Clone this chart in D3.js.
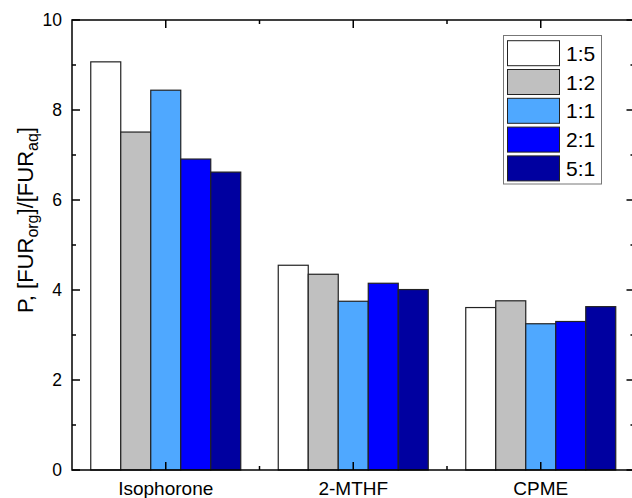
<!DOCTYPE html>
<html><head><meta charset="utf-8">
<script src="https://cdn.jsdelivr.net/npm/d3@7"></script>
<style>body{margin:0;background:#fff}svg{display:block;font-family:Arial,"Liberation Sans",sans-serif}</style>
</head><body><svg id="c" width="632" height="498"></svg>
<script>
const categories = ["Isophorone", "2-MTHF", "CPME"];
const series = ["1:5", "1:2", "1:1", "2:1", "5:1"];
const colors = ["#ffffff", "#c0c0c0", "#4fa8ff", "#0000ff", "#0000a0"];
const values = {
  "1:5": [9.07, 4.55, 3.61],
  "1:2": [7.51, 4.35, 3.76],
  "1:1": [8.44, 3.75, 3.25],
  "2:1": [6.91, 4.15, 3.30],
  "5:1": [6.62, 4.01, 3.63]
};
const yTicks = [0, 2, 4, 6, 8, 10];
const yMinor = [1, 3, 5, 7, 9];

const svg = d3.select("#c");
const L = 72, R = 634.5, T = 20, B = 470;
const x0 = d3.scaleBand().domain(categories).range([L, R]);
const bw = x0.bandwidth();
const x1 = d3.scaleBand().domain(series).range([0.1 * bw, 0.9 * bw]);
const y = d3.scaleLinear().domain([0, 10]).range([B, T]);
const color = d3.scaleOrdinal().domain(series).range(colors);

// bars
const g = svg.append("g");
categories.forEach((c, ci) => {
  series.forEach(s => {
    g.append("rect")
      .attr("x", x0(c) + x1(s))
      .attr("y", y(values[s][ci]))
      .attr("width", x1.bandwidth())
      .attr("height", y(0) - y(values[s][ci]))
      .attr("fill", color(s))
      .attr("stroke", "#222")
      .attr("stroke-width", 1.2);
  });
});

// axes
const ax = svg.append("g").attr("stroke", "#000").attr("stroke-width", 1.5).attr("fill", "none");
ax.append("rect").attr("x", L).attr("y", T).attr("width", R - L).attr("height", B - T);
yTicks.forEach(t => {
  ax.append("line").attr("x1", L).attr("x2", L + 8).attr("y1", y(t)).attr("y2", y(t));
  ax.append("line").attr("x1", R).attr("x2", R - 8).attr("y1", y(t)).attr("y2", y(t));
});
yMinor.forEach(t => {
  ax.append("line").attr("x1", L).attr("x2", L + 4).attr("y1", y(t)).attr("y2", y(t));
  ax.append("line").attr("x1", R).attr("x2", R - 4).attr("y1", y(t)).attr("y2", y(t));
});
categories.forEach((c, i) => {
  const cx = x0(c) + bw / 2;
  ax.append("line").attr("x1", cx).attr("x2", cx).attr("y1", B).attr("y2", B - 8);
  ax.append("line").attr("x1", cx).attr("x2", cx).attr("y1", T).attr("y2", T + 8);
  if (i > 0) {
    const bx = x0(c);
    ax.append("line").attr("x1", bx).attr("x2", bx).attr("y1", B).attr("y2", B - 4);
    ax.append("line").attr("x1", bx).attr("x2", bx).attr("y1", T).attr("y2", T + 4);
  }
});

// tick labels
svg.append("g").selectAll("text").data(yTicks).join("text")
  .attr("x", L - 10).attr("y", d => y(d) + 6)
  .attr("text-anchor", "end").attr("font-size", 17.5).text(d => d);
svg.append("g").selectAll("text").data(categories).join("text")
  .attr("x", d => x0(d) + bw / 2).attr("y", 495)
  .attr("text-anchor", "middle").attr("font-size", 19).text(d => d);

// y title
const yt = svg.append("text").attr("transform", "translate(33,220) rotate(-90)")
  .attr("text-anchor", "middle").attr("font-size", 22);
yt.append("tspan").text("P, [FUR");
yt.append("tspan").attr("font-size", 16).attr("dy", 5).text("org");
yt.append("tspan").attr("dy", -5).text("]/[FUR");
yt.append("tspan").attr("font-size", 16).attr("dy", 5).text("aq");
yt.append("tspan").attr("dy", -5).text("]");

// legend
const lg = svg.append("g");
lg.append("rect").attr("x", 503.5).attr("y", 35.5).attr("width", 98).attr("height", 148.5)
  .attr("fill", "#fff").attr("stroke", "#777").attr("stroke-width", 1);
series.forEach((s, i) => {
  const yy = 40.7 + i * 28.8;
  lg.append("rect").attr("x", 507.5).attr("y", yy).attr("width", 52).attr("height", 25)
    .attr("fill", color(s)).attr("stroke", "#222").attr("stroke-width", 1);
  lg.append("text").attr("x", 566).attr("y", yy + 20).attr("font-size", 21).text(s);
});
</script></body></html>
